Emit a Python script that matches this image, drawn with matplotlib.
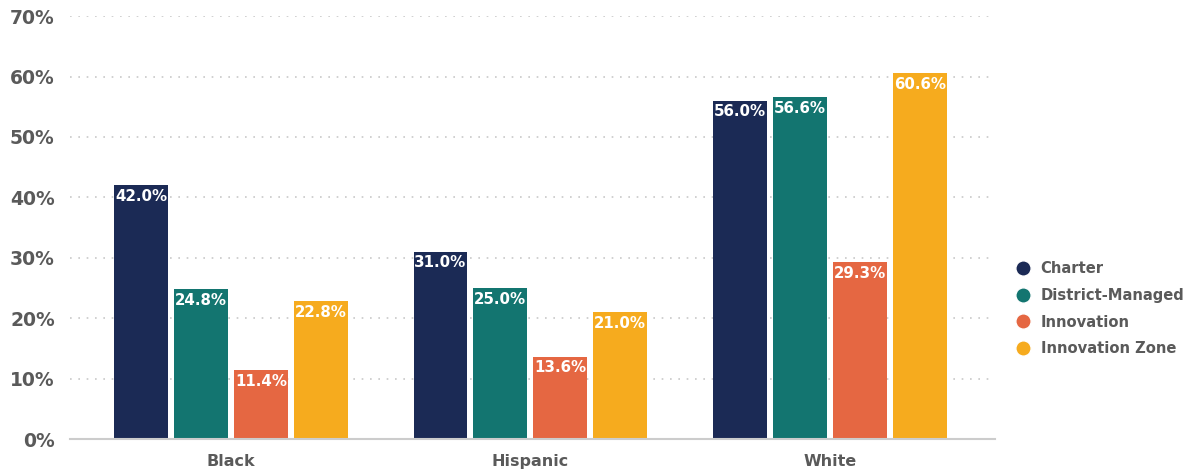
import numpy as np
import matplotlib.pyplot as plt
from matplotlib.lines import Line2D

plt.rcParams['font.family'] = ['DejaVu Sans']

# data
groups = ["Black", "Hispanic", "White"]
series = ["Charter", "District-Managed", "Innovation", "Innovation Zone"]
charter = [42.0, 31.0, 56.0]
district = [24.8, 25.0, 56.6]
innovation = [11.4, 13.6, 29.3]
zone = [22.8, 21.0, 60.6]
colors = ["#1b2a55", "#137570", "#e56742", "#f6ab1e"]

vals = [charter, district, innovation, zone]
gray = "#5a5a5a"

fig = plt.figure(figsize=(11.93, 4.72), dpi=100)
ax = fig.add_axes([0.0587, 0.0699, 0.775, 0.896])

x = np.arange(len(groups))
w = 0.18
step = 0.2
for i, (v, c) in enumerate(zip(vals, colors)):
    pos = x + (i - 1.5) * step
    ax.bar(pos, v, width=w, color=c, zorder=3)
    for p, val in zip(pos, v):
        ax.text(p, val - 0.6, f"{val:.1f}%", ha="center", va="top", color="white",
                fontsize=10.8, fontweight="bold", zorder=4)

ax.set_ylim(0, 70)
ax.set_xlim(-0.537, 2.55)
ax.set_yticks(np.arange(0, 71, 10))
ax.set_yticklabels([f"{t}%" for t in range(0, 71, 10)])
ax.set_xticks(x)
ax.set_xticklabels(groups)
for lbl in ax.get_yticklabels():
    lbl.set_fontweight("bold")
    lbl.set_fontsize(13.5)
    lbl.set_color(gray)
for lbl in ax.get_xticklabels():
    lbl.set_fontweight("bold")
    lbl.set_fontsize(11.5)
    lbl.set_color(gray)
ax.tick_params(axis="both", length=0)
ax.tick_params(axis="y", pad=11)
ax.tick_params(axis="x", pad=11)

ax.grid(axis="y", linestyle=(0, (1, 4)), color="#c8c8c8", linewidth=1.2, zorder=0)
for s in ["top", "right", "left"]:
    ax.spines[s].set_visible(False)
ax.spines["bottom"].set_color("#cccccc")
ax.spines["bottom"].set_linewidth(1.5)
ax.spines["bottom"].set_zorder(5)

handles = [Line2D([0], [0], marker="o", color="w", markerfacecolor=c, markersize=11, label=s)
           for s, c in zip(series, colors)]
leg = fig.legend(handles=handles, loc="center left", bbox_to_anchor=(0.834, 0.346),
                 frameon=False, handletextpad=0.2, labelspacing=0.8,
                 prop={"weight": "bold", "size": 10.6})
for t in leg.get_texts():
    t.set_color(gray)

plt.savefig("out.png")
